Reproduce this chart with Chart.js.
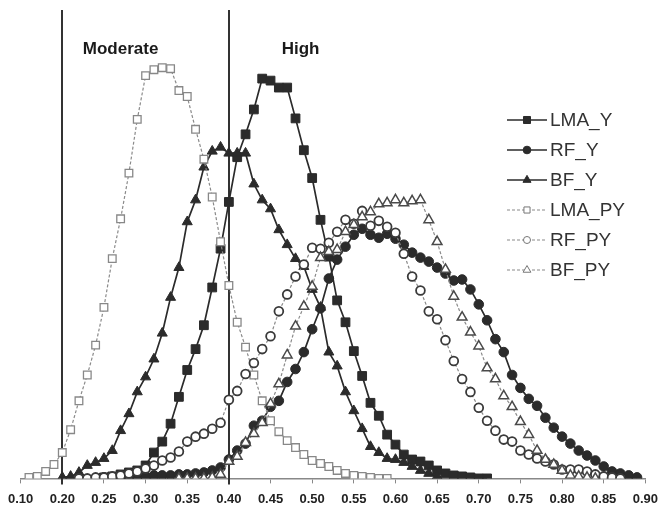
<!DOCTYPE html>
<html>
<head>
<meta charset="utf-8">
<title>Yield class distributions</title>
<script src="https://cdn.jsdelivr.net/npm/chart.js@4.4.1/dist/chart.umd.min.js"></script>
<style>
  html, body { margin: 0; padding: 0; background: #fff; }
  #wrap { width: 666px; height: 509px; }
</style>
</head>
<body>
<div id="wrap"><canvas id="chart" width="666" height="509"></canvas></div>
<script>
// ── Data ─────────────────────────────────────────────────────────────────────

const X_VALUES = [
  0.16, 0.17, 0.18, 0.19, 0.20, 0.21, 0.22, 0.23, 0.24, 0.25, 0.26, 0.27, 0.28, 0.29,
  0.30, 0.31, 0.32, 0.33, 0.34, 0.35, 0.36, 0.37, 0.38, 0.39, 0.40, 0.41, 0.42, 0.43,
  0.44, 0.45, 0.46, 0.47, 0.48, 0.49, 0.50, 0.51, 0.52, 0.53, 0.54, 0.55, 0.56, 0.57,
  0.58, 0.59, 0.60, 0.61, 0.62, 0.63, 0.64, 0.65, 0.66, 0.67, 0.68, 0.69, 0.70, 0.71,
  0.72, 0.73, 0.74, 0.75, 0.76, 0.77, 0.78, 0.79, 0.80, 0.81, 0.82, 0.83, 0.84, 0.85,
  0.86, 0.87, 0.88, 0.89
];

const _ = null;

const LMA_Y = [
  _, _, _, _, _, _, _, _, _,
  1, 2, 4, 6, 8, 13, 26, 37, 55, 82, 109, 130, 154, 192, 231,
  278, 323, 346, 371, 402, 400, 393, 393, 362, 330, 302, 260, 223, 179, 157,
  128, 103, 76, 63, 44, 34, 24, 19, 17, 13, 8, 5, 3, 2, 1, 0, 0,
  _, _, _, _, _, _, _, _, _, _, _, _, _, _, _, _, _, _
];

const RF_Y = [
  _, _, _, _, _, _, _, _, _,
  1, 1, 1, 2, 2, 2, 3, 3, 3, 4, 4, 5, 6, 8, 11,
  19, 28, 35, 53, 58, 72, 78, 97, 110, 127, 150, 171, 201, 220, 233,
  245, 251, 245, 242, 246, 241, 235, 227, 222, 218, 212, 206, 199, 200, 190,
  175, 159, 140, 127, 104, 91, 80, 73, 61, 51, 42, 35, 28, 23, 18, 12, 7, 5, 3, 1
];

const BF_Y = [
  _, _, _, _,
  1, 2, 6, 13, 16, 20, 28, 48, 65, 87, 102, 120, 146, 182, 212,
  258, 280, 313, 329, 333, 327, 327, 327, 296, 280, 271, 250, 235, 221, 213,
  190, 172, 127, 113, 87, 68, 50, 32, 26, 20, 19, 16, 12, 8, 5, 2,
  _, _, _, _, _, _, _, _, _, _, _, _, _, _, _, _, _, _, _, _, _, _, _, _
];

const LMA_PY = [
  1, 2, 7, 14, 26, 49, 78, 104, 134, 172, 221, 261, 307, 361, 405, 411, 413, 412,
  390, 384, 351, 321, 283, 238, 194, 157, 132, 104, 78, 58, 47, 38, 31, 24, 18, 15,
  12, 8, 5, 3, 2, 1, 0, 0,
  _, _, _, _, _, _, _, _, _, _, _, _, _, _, _, _, _, _, _, _, _, _, _, _, _, _, _, _, _, _
];

const RF_PY = [
  _, _, _, _, _, _,
  0, 0, 1, 1, 2, 3, 5, 7, 10, 13, 18, 21, 27, 37, 42, 45, 50, 56,
  79, 88, 105, 116, 130, 143, 168, 185, 203, 215, 232, 231, 237, 248, 260,
  256, 269, 254, 259, 253, 247, 226, 203, 189, 168, 160, 139, 118, 100, 87,
  71, 58, 48, 39, 37, 28, 24, 20, 17, 14, 9, 9, 9, 7, 4, 2, 1, 0,
  _, _
];

const BF_PY = [
  _, _, _, _, _, _, _, _, _, _, _, _, _, _, _, _, _, _,
  0, 0, 0, 0, 1, 4,
  17, 22, 36, 45, 56, 75, 95, 124, 153, 173, 193, 222, 228, 230, 248,
  255, 263, 268, 276, 277, 280, 277, 279, 280, 260, 238, 210, 183, 162, 147,
  133, 111, 100, 83, 72, 57, 44, 28, 19, 14, 8, 3, 2, 1, 0,
  _, _, _, _, _
];

const TICK_VALUES = [0.15, 0.20, 0.25, 0.30, 0.35, 0.40, 0.45, 0.50, 0.55, 0.60, 0.65, 0.70, 0.75, 0.80, 0.85, 0.90];
const TICK_LABELS = ['0.10', '0.20', '0.25', '0.30', '0.35', '0.40', '0.45', '0.50', '0.55', '0.60', '0.65', '0.70', '0.75', '0.80', '0.85', '0.90'];

const ZONE_LINES  = [0.20, 0.40];
const ZONE_NAMES  = ['Moderate', 'High'];
const ZONE_NAME_X = [0.27, 0.486];

// ── Helpers ──────────────────────────────────────────────────────────────────

const FONT = '"Liberation Sans", Arial, Helvetica, sans-serif';
const DARK = '#2b2b2b';
const GREY = '#8a8a8a';

function points(values) {
  return X_VALUES.map((x, i) => ({ x, y: values[i] })).filter(p => p.y !== null);
}

function solidSeries(label, values, style, radius) {
  return {
    label, data: points(values),
    borderColor: DARK, borderWidth: 1.7,
    pointStyle: style, pointRadius: radius,
    pointBackgroundColor: DARK, pointBorderColor: DARK, pointBorderWidth: 1
  };
}

function dashedSeries(label, values, style, radius, markColor, markWidth) {
  return {
    label, data: points(values),
    borderColor: GREY, borderWidth: 1.2, borderDash: [3, 2],
    pointStyle: style, pointRadius: radius,
    pointBackgroundColor: '#fff', pointBorderColor: markColor, pointBorderWidth: markWidth
  };
}

// ── Plugins ──────────────────────────────────────────────────────────────────

const zonePlugin = {
  id: 'zones',
  beforeDatasetsDraw(chart) {
    const { ctx, chartArea, scales } = chart;
    ctx.save();
    ctx.strokeStyle = '#333';
    ctx.lineWidth = 2;
    ZONE_LINES.forEach(v => {
      const x = Math.round(scales.x.getPixelForValue(v));
      ctx.beginPath();
      ctx.moveTo(x, chartArea.top);
      ctx.lineTo(x, chartArea.bottom + 6);
      ctx.stroke();
    });
    ctx.fillStyle = '#1a1a1a';
    ctx.font = `bold 17px ${FONT}`;
    ctx.textAlign = 'center';
    ctx.textBaseline = 'middle';
    ZONE_NAMES.forEach((name, i) => {
      ctx.fillText(name, scales.x.getPixelForValue(ZONE_NAME_X[i]), chartArea.top + 39);
    });
    ctx.restore();
  }
};

const legendPlugin = {
  id: 'boxLegend',
  afterDraw(chart) {
    const ctx = chart.ctx;
    ctx.save();
    chart.data.datasets.forEach((ds, i) => {
      const y = 120 + i * 30;
      ctx.strokeStyle = ds.borderColor;
      ctx.lineWidth = ds.borderWidth;
      ctx.setLineDash(ds.borderDash || []);
      ctx.beginPath();
      ctx.moveTo(507, y);
      ctx.lineTo(547, y);
      ctx.stroke();
      ctx.setLineDash([]);

      ctx.fillStyle = ds.pointBackgroundColor;
      ctx.strokeStyle = ds.borderDash ? '#777' : ds.pointBorderColor;
      ctx.lineWidth = 1;
      Chart.helpers.drawPoint(ctx, { pointStyle: ds.pointStyle, radius: ds.pointRadius * 0.8, rotation: 0, borderWidth: 1 }, 527, y);

      ctx.fillStyle = '#333';
      ctx.font = `19px ${FONT}`;
      ctx.textAlign = 'left';
      ctx.textBaseline = 'middle';
      ctx.fillText(ds.label, 550, y + 1);
    });
    ctx.restore();
  }
};

// ── Chart ────────────────────────────────────────────────────────────────────

const datasets = [
  solidSeries('LMA_Y', LMA_Y, 'rect', 6.2),
  solidSeries('RF_Y', RF_Y, 'circle', 4.8),
  solidSeries('BF_Y', BF_Y, 'triangle', 5.8),
  dashedSeries('LMA_PY', LMA_PY, 'rect', 5.4, '#888', 1.3),
  dashedSeries('RF_PY', RF_PY, 'circle', 4.4, '#3a3a3a', 1.8),
  dashedSeries('BF_PY', BF_PY, 'triangle', 5.6, '#4a4a4a', 1.5)
];
datasets.forEach((ds, i) => { ds.order = datasets.length - i; });

new Chart(document.getElementById('chart'), {
  type: 'line',
  data: { datasets },
  plugins: [zonePlugin, legendPlugin],
  options: {
    responsive: false,
    animation: false,
    events: [],
    layout: { padding: { left: 19, right: 17, top: 10, bottom: -6 } },
    plugins: { legend: { display: false }, tooltip: { enabled: false } },
    scales: {
      x: {
        type: 'linear', min: 0.15, max: 0.90,
        afterBuildTicks: scale => { scale.ticks = TICK_VALUES.map(value => ({ value })); },
        ticks: {
          autoSkip: false, maxRotation: 0, padding: 8,
          color: '#222', font: { family: FONT, size: 13, weight: 'bold' },
          callback: (value, index) => TICK_LABELS[index]
        },
        grid: { drawOnChartArea: false, drawTicks: true, tickLength: 5, color: '#888', lineWidth: 1 },
        border: { display: true, color: '#888', width: 1.5 }
      },
      y: { display: false, min: 0, max: 471 }
    }
  }
});
</script>
</body>
</html>
